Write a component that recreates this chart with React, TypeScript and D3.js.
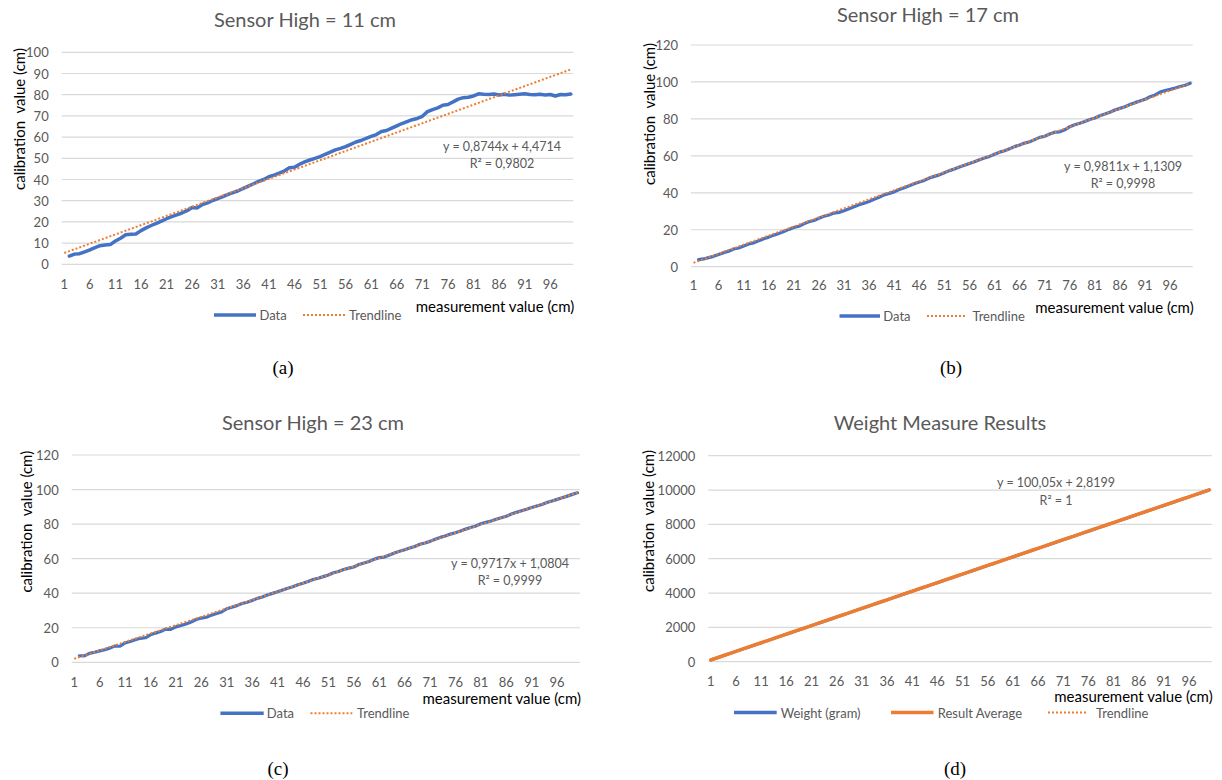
import React from 'react';
import * as d3 from 'd3';

// category axis 1..100, labels every 5
const categories = d3.range(1, 101);
const xTickLabels = [1, 6, 11, 16, 21, 26, 31, 36, 41, 46, 51, 56, 61, 66, 71, 76, 81, 86, 91, 96];

// Sensor High = 11 cm (first point empty)
const sensor11 = [null, 3.9, 4.8, 5.0, 5.9, 6.8, 7.9, 8.8, 9.1, 9.3,
  11.0, 12.3, 13.9, 14.2, 14.3, 15.9, 17.2, 18.3, 19.3, 20.4,
  21.5, 22.5, 23.3, 24.2, 25.3, 26.8, 26.6, 28.2, 29.0, 30.1,
  31.0, 31.9, 33.0, 33.8, 34.7, 35.8, 36.9, 38.0, 39.1, 40.0,
  41.3, 42.1, 43.0, 44.0, 45.5, 45.8, 47.2, 48.3, 49.2, 50.0,
  50.8, 51.9, 52.9, 54.0, 54.7, 55.5, 56.6, 57.7, 58.4, 59.4,
  60.3, 61.2, 62.6, 63.1, 64.2, 65.3, 66.4, 67.3, 68.2, 68.8,
  69.8, 72.0, 73.0, 73.8, 75.0, 75.4, 76.6, 77.9, 78.6, 78.8,
  79.4, 80.4, 80.2, 80.1, 80.3, 79.9, 80.2, 79.8, 80.0, 80.2,
  80.4, 80.1, 80.0, 80.2, 79.9, 80.1, 79.4, 80.1, 80.0, 80.3];

// Sensor High = 17 cm
const sensor17 = [null, 3.8, 4.2, 4.9, 5.6, 6.6, 7.6, 8.4, 9.6, 10.1,
  11.2, 12.3, 12.9, 14.0, 15.1, 16.0, 17.1, 18.0, 19.0, 20.2,
  21.2, 21.9, 23.2, 24.3, 25.0, 26.2, 27.3, 28.0, 29.0, 29.4,
  30.3, 31.3, 32.4, 33.5, 34.4, 35.3, 36.5, 37.6, 38.9, 39.6,
  40.5, 41.8, 42.8, 43.8, 44.9, 45.8, 46.7, 48.0, 48.9, 49.7,
  50.9, 52.0, 52.9, 54.0, 54.9, 55.9, 56.8, 57.9, 58.8, 59.7,
  60.9, 62.0, 62.8, 63.9, 65.0, 65.9, 66.9, 67.6, 68.8, 70.0,
  70.6, 71.8, 72.8, 73.0, 74.1, 75.8, 76.8, 77.6, 78.6, 79.7,
  80.5, 81.7, 82.6, 83.6, 84.8, 85.7, 86.6, 87.8, 88.8, 89.7,
  90.6, 92.0, 93.0, 94.5, 95.4, 96.0, 96.7, 97.5, 98.2, 99.3];

// Sensor High = 23 cm
const sensor23 = [null, 3.8, 3.7, 5.2, 5.8, 6.6, 7.3, 8.2, 9.4, 9.3,
  11.2, 12.0, 13.0, 13.9, 14.2, 15.9, 16.9, 17.8, 19.2, 19.1,
  20.5, 21.3, 22.2, 23.3, 24.8, 25.6, 26.1, 27.3, 28.2, 29.1,
  31.0, 31.9, 32.8, 34.0, 34.8, 35.8, 37.0, 37.8, 39.0, 39.9,
  40.8, 41.9, 42.9, 43.7, 44.9, 45.8, 46.8, 47.9, 48.7, 49.6,
  50.5, 51.8, 52.6, 53.7, 54.5, 55.2, 56.6, 57.5, 58.4, 59.6,
  60.6, 60.9, 62.1, 63.3, 64.3, 65.2, 66.2, 67.0, 68.3, 69.1,
  70.0, 71.2, 72.3, 73.1, 74.2, 75.0, 76.0, 77.1, 78.0, 78.9,
  80.2, 81.0, 81.8, 82.8, 83.7, 84.5, 85.8, 86.8, 87.7, 88.6,
  89.6, 90.5, 91.4, 92.5, 93.4, 94.3, 95.2, 96.2, 97.2, 98.1];

// Weight measure
const weightGram = [100, 200, 300, 400, 500, 600, 700, 800, 900, 1000,
  1100, 1200, 1300, 1400, 1500, 1600, 1700, 1800, 1900, 2000,
  2100, 2200, 2300, 2400, 2500, 2600, 2700, 2800, 2900, 3000,
  3100, 3200, 3300, 3400, 3500, 3600, 3700, 3800, 3900, 4000,
  4100, 4200, 4300, 4400, 4500, 4600, 4700, 4800, 4900, 5000,
  5100, 5200, 5300, 5400, 5500, 5600, 5700, 5800, 5900, 6000,
  6100, 6200, 6300, 6400, 6500, 6600, 6700, 6800, 6900, 7000,
  7100, 7200, 7300, 7400, 7500, 7600, 7700, 7800, 7900, 8000,
  8100, 8200, 8300, 8400, 8500, 8600, 8700, 8800, 8900, 9000,
  9100, 9200, 9300, 9400, 9500, 9600, 9700, 9800, 9900, 10000];
const resultAverage = [103, 201, 302, 404, 503, 601, 704, 802, 905, 1003,
  1104, 1202, 1305, 1401, 1503, 1604, 1702, 1806, 1903, 2005,
  2102, 2203, 2306, 2404, 2503, 2607, 2705, 2803, 2906, 3004,
  3103, 3207, 3305, 3404, 3508, 3606, 3703, 3807, 3905, 4006,
  4104, 4208, 4306, 4405, 4507, 4603, 4708, 4806, 4904, 5007,
  5105, 5203, 5308, 5406, 5504, 5608, 5706, 5803, 5907, 6005,
  6104, 6208, 6306, 6404, 6508, 6606, 6705, 6807, 6905, 7004,
  7108, 7206, 7303, 7408, 7506, 7605, 7708, 7806, 7904, 8007,
  8105, 8208, 8306, 8404, 8508, 8606, 8704, 8808, 8906, 9004,
  9107, 9205, 9304, 9407, 9505, 9604, 9708, 9806, 9905, 10007];

// trendline coefficients as printed on the charts
const trend11 = { slope: 0.8744, intercept: 4.4714, eq: 'y = 0,8744x + 4,4714', r2: 'R² = 0,9802' };
const trend17 = { slope: 0.9811, intercept: 1.1309, eq: 'y = 0,9811x + 1,1309', r2: 'R² = 0,9998' };
const trend23 = { slope: 0.9717, intercept: 1.0804, eq: 'y = 0,9717x + 1,0804', r2: 'R² = 0,9999' };
const trendWeight = { slope: 100.05, intercept: 2.8199, eq: 'y = 100,05x + 2,8199', r2: 'R² = 1' };

const BLUE = '#4472C4';
const ORANGE = '#ED7D31';
const GREY = '#595959';
const FONT = 'Lato, "Open Sans", sans-serif';

const panels = [
  {
    title: 'Sensor High = 11 cm', caption: '(a)', capX: 283, capY: 367,
    left: 61.7, right: 573.3, top: 52.3, bottom: 264.3, yMax: 100, yStep: 10,
    titleX: 305, titleY: 18.5, yTitleX: 19, yTitleY: 119, xLabY: 283.5, xTitleY: 306,
    eqX: 502, eqY: 146,
    series: [{ values: sensor11, color: BLUE, width: 3.5 }],
    trend: trend11,
    legendY: 315,
    legend: [
      { kind: 'line', color: BLUE, x1: 214, x2: 256, label: 'Data', tx: 259.5 },
      { kind: 'dot', color: ORANGE, x1: 303, x2: 345, label: 'Trendline', tx: 349 },
    ],
  },
  {
    title: 'Sensor High = 17 cm', caption: '(b)', capX: 951, capY: 367,
    left: 691, right: 1192.7, top: 45, bottom: 266.7, yMax: 120, yStep: 20,
    titleX: 928, titleY: 13.5, yTitleX: 649, yTitleY: 114, xLabY: 285, xTitleY: 306.5,
    eqX: 1123, eqY: 166,
    series: [{ values: sensor17, color: BLUE, width: 3.2 }],
    trend: trend17,
    legendY: 316,
    legend: [
      { kind: 'line', color: BLUE, x1: 839.5, x2: 880, label: 'Data', tx: 883.3 },
      { kind: 'dot', color: ORANGE, x1: 927, x2: 966, label: 'Trendline', tx: 972.4 },
    ],
  },
  {
    title: 'Sensor High = 23 cm', caption: '(c)', capX: 278, capY: 768,
    left: 71.7, right: 580, top: 455, bottom: 662.3, yMax: 120, yStep: 20,
    titleX: 313, titleY: 421.7, yTitleX: 26, yTitleY: 521.7, xLabY: 681.7, xTitleY: 697.7,
    eqX: 510, eqY: 563.3,
    series: [{ values: sensor23, color: BLUE, width: 3.2 }],
    trend: trend23,
    legendY: 713.3,
    legend: [
      { kind: 'line', color: BLUE, x1: 220.4, x2: 263.7, label: 'Data', tx: 266.8 },
      { kind: 'dot', color: ORANGE, x1: 310.5, x2: 352.3, label: 'Trendline', tx: 357 },
    ],
  },
  {
    title: 'Weight Measure Results', caption: '(d)', capX: 955, capY: 768,
    left: 708.3, right: 1211.7, top: 455.7, bottom: 661.7, yMax: 12000, yStep: 2000,
    titleX: 940, titleY: 421.7, yTitleX: 648.3, yTitleY: 521, xLabY: 680.7, xTitleY: 696,
    eqX: 1056, eqY: 482.7,
    series: [
      { values: weightGram, color: BLUE, width: 3 },
      { values: resultAverage, color: ORANGE, width: 3.5 },
    ],
    trend: trendWeight,
    legendY: 712.5,
    legend: [
      { kind: 'line', color: BLUE, x1: 734, x2: 776.7, label: 'Weight (gram)', tx: 780.7 },
      { kind: 'line', color: ORANGE, x1: 891, x2: 933.5, label: 'Result Average', tx: 937.7 },
      { kind: 'dot', color: ORANGE, x1: 1048, x2: 1088, label: 'Trendline', tx: 1096 },
    ],
  },
];

function Panel({ p }: { p: any }) {
  const x = d3.scaleBand<number>().domain(categories).range([p.left, p.right]);
  const cx = (c: number) => (x(c) as number) + x.bandwidth() / 2;
  const y = d3.scaleLinear().domain([0, p.yMax]).range([p.bottom, p.top]);
  const yTicks = d3.range(0, p.yMax + p.yStep / 2, p.yStep);

  const line = d3.line<number | null>()
    .defined(d => d !== null)
    .x((d, i) => cx(categories[i]))
    .y(d => y(d as number));

  const first = categories[0];
  const last = categories[categories.length - 1];
  const trendPts: [number, number][] = [
    [cx(first), y(p.trend.slope * first + p.trend.intercept)],
    [cx(last), y(p.trend.slope * last + p.trend.intercept)],
  ];
  const trendPath = d3.line()(trendPts) as string;

  return (
    <g fontFamily={FONT}>
      <text x={p.titleX} y={p.titleY} textAnchor="middle" dominantBaseline="central" fontSize={20} fill={GREY}>{p.title}</text>

      {yTicks.map(t => (
        <g key={t}>
          <line x1={p.left} x2={p.right} y1={y(t)} y2={y(t)} stroke="#D9D9D9" strokeWidth={1.2} />
          <text x={p.left - 13} y={y(t)} textAnchor="end" dominantBaseline="central" fontSize={13} fill={GREY}>{t}</text>
        </g>
      ))}

      {xTickLabels.map(t => (
        <text key={t} x={cx(t)} y={p.xLabY} textAnchor="middle" dominantBaseline="central" fontSize={13} fill={GREY}>{t}</text>
      ))}

      {p.series.map((s: any, i: number) => (
        <path key={i} d={line(s.values) as string} fill="none" stroke={s.color} strokeWidth={s.width} strokeLinejoin="round" strokeLinecap="round" />
      ))}
      <path d={trendPath} fill="none" stroke={ORANGE} strokeWidth={2} strokeDasharray="2 2" />

      <text x={p.eqX} y={p.eqY} textAnchor="middle" dominantBaseline="central" fontSize={12.5} fill={GREY}>{p.trend.eq}</text>
      <text x={p.eqX} y={p.eqY + 17.5} textAnchor="middle" dominantBaseline="central" fontSize={12.5} fill={GREY}>{p.trend.r2}</text>

      <text transform={`translate(${p.yTitleX},${p.yTitleY}) rotate(-90)`} textAnchor="middle" dominantBaseline="central" fontSize={15} fill="#000" style={{ whiteSpace: 'pre' }}>{'calibration  value (cm)'}</text>
      <text x={p.right + 1} y={p.xTitleY} textAnchor="end" dominantBaseline="central" fontSize={15} fill="#000">measurement value (cm)</text>

      {p.legend.map((l: any, i: number) => (
        <g key={i}>
          <line x1={l.x1} x2={l.x2} y1={p.legendY} y2={p.legendY} stroke={l.color}
            strokeWidth={l.kind === 'dot' ? 2 : 3.5} strokeDasharray={l.kind === 'dot' ? '2 2' : undefined} />
          <text x={l.tx} y={p.legendY} dominantBaseline="central" fontSize={13} fill={GREY}>{l.label}</text>
        </g>
      ))}

      <text x={p.capX} y={p.capY} textAnchor="middle" dominantBaseline="central" fontSize={19} fill="#000" fontFamily='"Liberation Serif", "Times New Roman", serif'>{p.caption}</text>
    </g>
  );
}

export default function App() {
  return (
    <svg width={1222} height={780} style={{ position: 'absolute', left: 0, top: 0, background: '#fff' }}>
      {panels.map((p, i) => <Panel key={i} p={p} />)}
    </svg>
  );
}
